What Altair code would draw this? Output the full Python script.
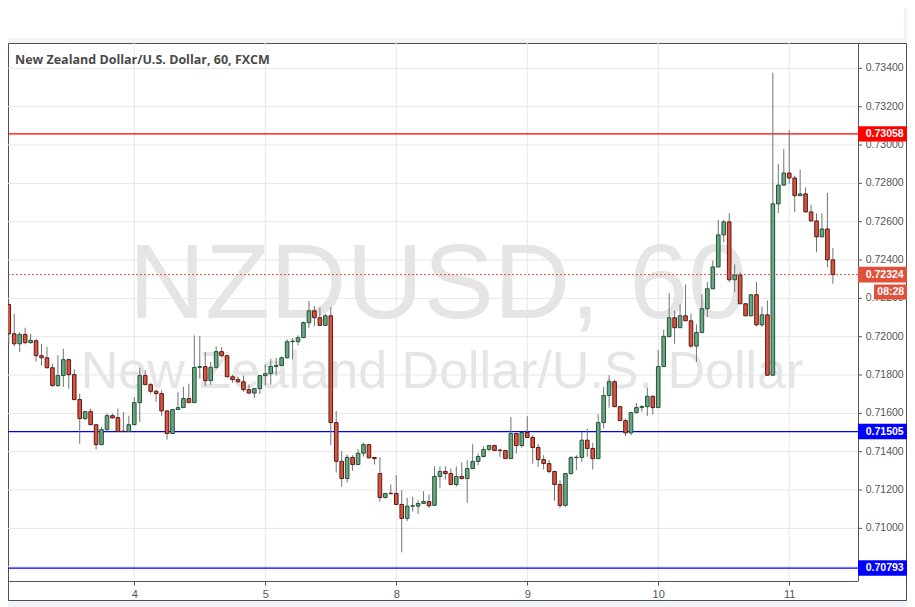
import altair as alt
import pandas as pd

# ---- candle data (hourly NZD/USD) ----
open_ = [0.72168, 0.72015, 0.71963, 0.72012, 0.71969, 0.71979, 0.71901, 0.71890, 0.71838, 0.71745,
         0.71797, 0.71880, 0.71802, 0.71672, 0.71573, 0.71609, 0.71541, 0.71437, 0.71515, 0.71588,
         0.71578, 0.71507, 0.71505, 0.71541, 0.71656, 0.71797, 0.71750, 0.71715, 0.71703, 0.71613,
         0.71495, 0.71620, 0.71630, 0.71677, 0.71656, 0.71840, 0.71844, 0.71771, 0.71840, 0.71922,
         0.71901, 0.71791, 0.71776, 0.71765, 0.71724, 0.71706, 0.71729, 0.71797, 0.71807, 0.71845,
         0.71850, 0.71890, 0.71974, 0.71974, 0.71995, 0.72073, 0.72135, 0.72099, 0.72059, 0.72109,
         0.71552, 0.71350, 0.71260, 0.71370, 0.71333, 0.71392, 0.71437, 0.71370, 0.71286, 0.71161,
         0.71183, 0.71182, 0.71125, 0.71052, 0.71116, 0.71116, 0.71130, 0.71140, 0.71120, 0.71271,
         0.71297, 0.71286, 0.71229, 0.71271, 0.71260, 0.71312, 0.71349, 0.71375, 0.71411, 0.71432,
         0.71408, 0.71406, 0.71364, 0.71495, 0.71432, 0.71500, 0.71474, 0.71422, 0.71359, 0.71338,
         0.71297, 0.71229, 0.71120, 0.71286, 0.71369, 0.71370, 0.71460, 0.71417, 0.71364, 0.71552,
         0.71693, 0.71765, 0.71635, 0.71562, 0.71498, 0.71604, 0.71630, 0.71635, 0.71689, 0.71630,
         0.71844, 0.72000, 0.72099, 0.72047, 0.72109, 0.72083, 0.71951, 0.72022, 0.72146, 0.72250,
         0.72364, 0.72531, 0.72599, 0.72297, 0.72321, 0.72172, 0.72109, 0.72219, 0.72062, 0.72114,
         0.71799, 0.72693, 0.72791, 0.72854, 0.72828, 0.72736, 0.72745, 0.72651, 0.72604, 0.72521,
         0.72562, 0.72401]
high = [0.72189, 0.72120, 0.72024, 0.72047, 0.72015, 0.71989, 0.71963, 0.71946, 0.71859, 0.71903,
        0.71937, 0.71885, 0.71830, 0.71703, 0.71612, 0.71625, 0.71543, 0.71529, 0.71599, 0.71599,
        0.71625, 0.71606, 0.71588, 0.71685, 0.71838, 0.71824, 0.71760, 0.71724, 0.71720, 0.71615,
        0.71621, 0.71712, 0.71738, 0.71755, 0.72007, 0.72003, 0.71920, 0.71868, 0.71950, 0.71946,
        0.71904, 0.71802, 0.71790, 0.71798, 0.71750, 0.71731, 0.71798, 0.71856, 0.71885, 0.71889,
        0.71897, 0.71986, 0.71993, 0.72007, 0.72080, 0.72187, 0.72160, 0.72151, 0.72120, 0.72154,
        0.71611, 0.71403, 0.71385, 0.71382, 0.71413, 0.71448, 0.71440, 0.71372, 0.71371, 0.71185,
        0.71229, 0.71278, 0.71199, 0.71159, 0.71165, 0.71147, 0.71194, 0.71177, 0.71324, 0.71324,
        0.71324, 0.71312, 0.71324, 0.71345, 0.71356, 0.71439, 0.71390, 0.71429, 0.71434, 0.71437,
        0.71416, 0.71408, 0.71581, 0.71497, 0.71502, 0.71585, 0.71486, 0.71442, 0.71382, 0.71356,
        0.71300, 0.71251, 0.71288, 0.71377, 0.71382, 0.71503, 0.71521, 0.71446, 0.71595, 0.71738,
        0.71799, 0.71776, 0.71637, 0.71573, 0.71608, 0.71654, 0.71642, 0.71734, 0.71694, 0.71932,
        0.72036, 0.72227, 0.72137, 0.72168, 0.72272, 0.72120, 0.72064, 0.72220, 0.72285, 0.72397,
        0.72609, 0.72609, 0.72644, 0.72377, 0.72335, 0.72174, 0.72221, 0.72285, 0.72158, 0.72189,
        0.73378, 0.72901, 0.72979, 0.73078, 0.72840, 0.72871, 0.72779, 0.72689, 0.72644, 0.72644,
        0.72750, 0.72463]
low = [0.71967, 0.71949, 0.71920, 0.71960, 0.71963, 0.71871, 0.71850, 0.71835, 0.71738, 0.71738,
       0.71738, 0.71729, 0.71668, 0.71442, 0.71564, 0.71538, 0.71411, 0.71434, 0.71512, 0.71574,
       0.71503, 0.71502, 0.71503, 0.71539, 0.71555, 0.71746, 0.71703, 0.71660, 0.71587, 0.71463,
       0.71493, 0.71618, 0.71628, 0.71654, 0.71654, 0.71781, 0.71743, 0.71750, 0.71833, 0.71894,
       0.71789, 0.71760, 0.71760, 0.71712, 0.71703, 0.71680, 0.71701, 0.71746, 0.71750, 0.71798,
       0.71847, 0.71885, 0.71882, 0.71955, 0.71993, 0.72045, 0.72055, 0.72055, 0.72057, 0.71434,
       0.71291, 0.71217, 0.71239, 0.71300, 0.71330, 0.71375, 0.71366, 0.71333, 0.71139, 0.71156,
       0.71178, 0.71123, 0.70875, 0.71038, 0.71087, 0.71076, 0.71128, 0.71107, 0.71118, 0.71212,
       0.71255, 0.71227, 0.71217, 0.71255, 0.71133, 0.71310, 0.71330, 0.71370, 0.71404, 0.71404,
       0.71373, 0.71362, 0.71362, 0.71390, 0.71422, 0.71472, 0.71338, 0.71321, 0.71307, 0.71286,
       0.71144, 0.71107, 0.71113, 0.71280, 0.71304, 0.71347, 0.71373, 0.71307, 0.71362, 0.71521,
       0.71630, 0.71633, 0.71560, 0.71482, 0.71486, 0.71599, 0.71608, 0.71587, 0.71594, 0.71628,
       0.71842, 0.71998, 0.71963, 0.72045, 0.72081, 0.71942, 0.71868, 0.72020, 0.72102, 0.72248,
       0.72362, 0.72493, 0.72285, 0.72233, 0.72170, 0.72107, 0.72107, 0.72054, 0.72050, 0.71797,
       0.71797, 0.72644, 0.72789, 0.72797, 0.72649, 0.72734, 0.72649, 0.72602, 0.72441, 0.72519,
       0.72363, 0.72276]
close = [0.72015, 0.71963, 0.72012, 0.71969, 0.71981, 0.71901, 0.71890, 0.71838, 0.71745, 0.71797,
         0.71880, 0.71802, 0.71672, 0.71573, 0.71609, 0.71541, 0.71437, 0.71515, 0.71588, 0.71576,
         0.71505, 0.71505, 0.71541, 0.71656, 0.71797, 0.71750, 0.71715, 0.71703, 0.71613, 0.71495,
         0.71620, 0.71630, 0.71677, 0.71656, 0.71840, 0.71844, 0.71771, 0.71840, 0.71922, 0.71901,
         0.71791, 0.71776, 0.71765, 0.71724, 0.71706, 0.71729, 0.71797, 0.71807, 0.71845, 0.71850,
         0.71890, 0.71974, 0.71977, 0.71995, 0.72073, 0.72135, 0.72099, 0.72059, 0.72109, 0.71552,
         0.71350, 0.71260, 0.71370, 0.71333, 0.71392, 0.71437, 0.71368, 0.71364, 0.71161, 0.71182,
         0.71181, 0.71125, 0.71052, 0.71116, 0.71118, 0.71130, 0.71140, 0.71118, 0.71271, 0.71297,
         0.71286, 0.71229, 0.71271, 0.71260, 0.71312, 0.71349, 0.71375, 0.71411, 0.71432, 0.71406,
         0.71406, 0.71364, 0.71495, 0.71432, 0.71500, 0.71474, 0.71422, 0.71359, 0.71338, 0.71297,
         0.71229, 0.71120, 0.71286, 0.71369, 0.71371, 0.71460, 0.71417, 0.71364, 0.71552, 0.71693,
         0.71765, 0.71635, 0.71562, 0.71498, 0.71604, 0.71630, 0.71636, 0.71689, 0.71630, 0.71844,
         0.72002, 0.72099, 0.72047, 0.72109, 0.72083, 0.71951, 0.72022, 0.72146, 0.72250, 0.72364,
         0.72531, 0.72599, 0.72297, 0.72321, 0.72172, 0.72109, 0.72219, 0.72062, 0.72114, 0.71799,
         0.72693, 0.72791, 0.72854, 0.72828, 0.72736, 0.72745, 0.72651, 0.72604, 0.72521, 0.72562,
         0.72401, 0.72324]
candle_index = list(range(1, len(close) + 1))

# ---- axes / annotations ----
day_ticks = [24, 48, 72, 96, 120, 144]
day_labels = ["4", "5", "8", "9", "10", "11"]
price_ticks = [0.708, 0.710, 0.712, 0.714, 0.716, 0.718, 0.720, 0.722, 0.724,
               0.726, 0.728, 0.730, 0.732, 0.734]
levels = [0.73058, 0.71505, 0.70793]
level_colors = ["#ff0000", "#0000ff", "#0000ff"]
last_price = [0.72324]
countdown = "08:28"
title_text = "New Zealand Dollar/U.S. Dollar, 60, FXCM"
watermark_1 = "NZDUSD, 60"
watermark_2 = "New Zealand Dollar/U.S. Dollar"

W, H = 850, 538
RIGHT = 49          # right padding: total svg width 899 = page width minus body margins
UP, DOWN = "#6ba583", "#d75442"
UP_B, DOWN_B = "#225437", "#5b1a13"
AX = "#555555"
FONT = "Liberation Sans"

candles = pd.DataFrame({"i": candle_index, "o": open_, "h": high, "l": low, "c": close})
candles["dir"] = ["up" if c >= o else "down" for o, c in zip(open_, close)]
days = pd.DataFrame({"d": day_ticks})
prices = pd.DataFrame({"p": price_ticks})
lev = pd.DataFrame({"v": levels, "col": level_colors})
last = pd.DataFrame({"v": last_price})
one = pd.DataFrame({"k": [0]})

xs = alt.Scale(domain=[0.86, 156.6], nice=False, zero=False, padding=0)
ys = alt.Scale(domain=[0.707254, 0.735323], nice=False, zero=False, padding=0)

label_expr = ""
for t, lab in zip(day_ticks, day_labels):
    label_expr += f"datum.value == {t} ? '{lab}' : "
label_expr += "''"
xaxis = alt.Axis(values=day_ticks, labelExpr=label_expr, grid=False, title=None,
                 domainColor=AX, tickColor=AX, tickSize=4, labelColor=AX,
                 labelFontSize=11, labelFont=FONT, labelPadding=3, zindex=1,
                 labelFlush=False, labelOverlap=False)

def X(field):
    return alt.X(field, type="quantitative", scale=xs, axis=xaxis)

def Y(field):
    return alt.Y(field, type="quantitative", scale=ys, axis=None)

toolbar = alt.Chart(one).mark_rect(color="white").encode(
    x=alt.value(0), x2=alt.value(W + RIGHT - 3), y=alt.value(-35), y2=alt.value(-4.7))
panel = alt.Chart(one).mark_rect(fill="white", stroke="#4f4f4f", strokeWidth=1).encode(
    x=alt.value(0.5), x2=alt.value(W + RIGHT - 0.5), y=alt.value(0.5), y2=alt.value(557.5))

hgrid = alt.Chart(prices).mark_rule(color="#e6e6e6", strokeWidth=1).encode(
    y=Y("p"), x=alt.value(0), x2=alt.value(W))
vgrid = alt.Chart(days).mark_rule(color="#e6e6e6", strokeWidth=1).encode(
    x=X("d"), y=alt.value(0), y2=alt.value(H))

wm1 = alt.Chart(one).mark_text(font=FONT, fontSize=106, color="#e5e5e5",
                               align="center", baseline="alphabetic").encode(
    x=alt.value(430), y=alt.value(275), text=alt.value(watermark_1))
wm2 = alt.Chart(one).mark_text(font=FONT, fontSize=52, color="#e5e5e5",
                               align="center", baseline="alphabetic").encode(
    x=alt.value(434), y=alt.value(345), text=alt.value(watermark_2))

title = alt.Chart(one).mark_text(font="Open Sans", fontSize=12.5, fontWeight="bold",
                                 color="#4a4a4a", align="left", baseline="alphabetic").encode(
    x=alt.value(7), y=alt.value(21), text=alt.value(title_text))

level_lines = alt.Chart(lev).mark_rule(strokeWidth=1.2).encode(
    y=Y("v"), color=alt.Color("col:N", scale=None), x=alt.value(0), x2=alt.value(W))
last_line = alt.Chart(last).mark_rule(color="#e0513c", strokeWidth=1, strokeDash=[2, 2]).encode(
    y=Y("v"), x=alt.value(0), x2=alt.value(W))

wicks = alt.Chart(candles).mark_rule(color="#737375", strokeWidth=1).encode(
    x=X("i"), y=Y("l"), y2=alt.Y2("h"))
bodies = alt.Chart(candles).mark_bar(size=3.6, strokeWidth=1).encode(
    x=X("i"), y=Y("o"), y2=alt.Y2("c"),
    fill=alt.Fill("dir:N", scale=alt.Scale(domain=["up", "down"], range=[UP, DOWN]), legend=None),
    stroke=alt.Stroke("dir:N", scale=alt.Scale(domain=["up", "down"], range=[UP_B, DOWN_B]), legend=None))

right_line = alt.Chart(one).mark_rule(color=AX, strokeWidth=1).encode(
    x=alt.value(W + 0.5), y=alt.value(0), y2=alt.value(H))
yticks = alt.Chart(prices).mark_rule(color=AX, strokeWidth=1).encode(
    y=Y("p"), x=alt.value(W), x2=alt.value(W + 4))
ylabels = alt.Chart(prices).mark_text(font=FONT, fontSize=10.5, color=AX,
                                      align="left", baseline="middle").encode(
    y=Y("p"), x=alt.value(W + 7.7), text=alt.Text("p:Q", format=".5f"))

lev_boxes = alt.Chart(lev).mark_rect(yOffset=-7.7, y2Offset=7.7).encode(
    y=Y("v"), y2=alt.Y2("v"), x=alt.value(W), x2=alt.value(W + RIGHT),
    color=alt.Color("col:N", scale=None))
lev_text = alt.Chart(lev).mark_text(font=FONT, fontSize=10.5, fontWeight="bold", color="white",
                                    align="left", baseline="middle").encode(
    y=Y("v"), x=alt.value(W + 7.7), text=alt.Text("v:Q", format=".5f"))
last_box = alt.Chart(last).mark_rect(color="#e0513c", yOffset=-7.8, y2Offset=7.8).encode(
    y=Y("v"), y2=alt.Y2("v"), x=alt.value(W), x2=alt.value(W + RIGHT))
last_text = alt.Chart(last).mark_text(font=FONT, fontSize=10.5, fontWeight="bold", color="white",
                                      align="left", baseline="middle").encode(
    y=Y("v"), x=alt.value(W + 7.7), text=alt.Text("v:Q", format=".5f"))
cd_box = alt.Chart(last).mark_rect(color="#e0513c", yOffset=17.3 - 7.5, y2Offset=17.3 + 7.5).encode(
    y=Y("v"), y2=alt.Y2("v"), x=alt.value(W + 16), x2=alt.value(W + RIGHT))
cd_text = alt.Chart(last).mark_text(font=FONT, fontSize=10.5, fontWeight="bold", color="white",
                                    align="left", baseline="middle", yOffset=17.3).encode(
    y=Y("v"), x=alt.value(W + 19.3), text=alt.value(countdown))

chart = alt.layer(
    toolbar, panel, hgrid, vgrid, wm1, wm2, title, level_lines, last_line,
    wicks, bodies, right_line, yticks, ylabels,
    lev_boxes, lev_text, last_box, last_text, cd_box, cd_text
).properties(
    width=W, height=H,
    autosize=alt.AutoSizeParams(type="none"),
    padding={"left": 0, "top": 35, "right": RIGHT, "bottom": 26},
    background="#f0f3f7",
).configure_view(strokeWidth=0)

chart.save("out.html", embed_options={"renderer": "svg", "actions": False})
